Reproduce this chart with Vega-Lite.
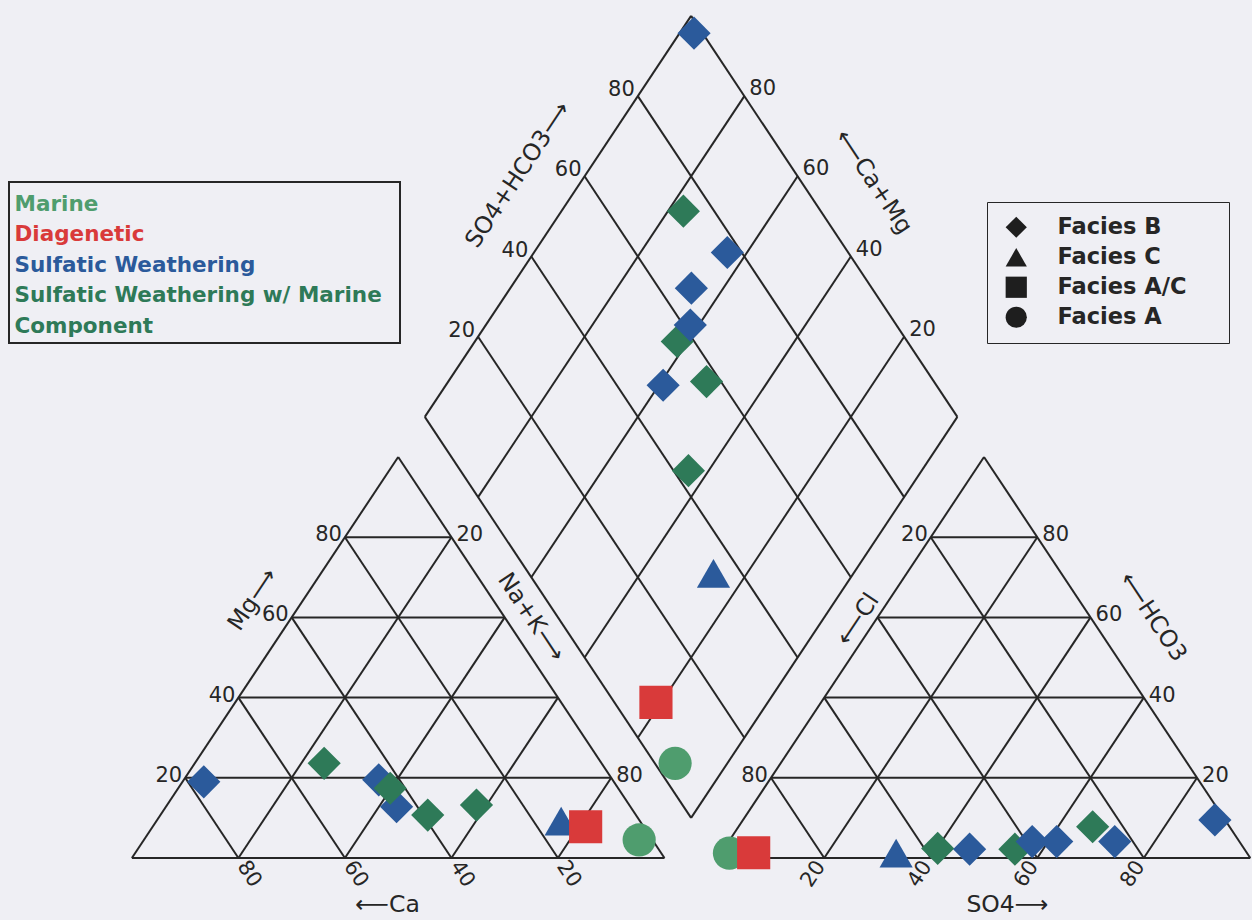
{
  "$schema": "https://vega.github.io/schema/vega-lite/v6.json",
  "width": 1252,
  "height": 920,
  "padding": 0,
  "autosize": {"type": "fit", "contains": "padding"},
  "background": "#efeff4",
  "config": {
    "view": {"stroke": null},
    "text": {"font": "DejaVu Sans", "fontSize": 21, "color": "#262626"}
  },
  "data": {
    "values": [
      {"kind": "grid", "panel": "cat", "a": 0, "b": 0, "a2": 0, "b2": 100},
      {"kind": "grid", "panel": "cat", "a": 20, "b": 0, "a2": 20, "b2": 80},
      {"kind": "grid", "panel": "cat", "a": 40, "b": 0, "a2": 40, "b2": 60},
      {"kind": "grid", "panel": "cat", "a": 60, "b": 0, "a2": 60, "b2": 40},
      {"kind": "grid", "panel": "cat", "a": 80, "b": 0, "a2": 80, "b2": 20},
      {"kind": "grid", "panel": "cat", "a": 0, "b": 0, "a2": 100, "b2": 0},
      {"kind": "grid", "panel": "cat", "a": 0, "b": 20, "a2": 80, "b2": 20},
      {"kind": "grid", "panel": "cat", "a": 0, "b": 40, "a2": 60, "b2": 40},
      {"kind": "grid", "panel": "cat", "a": 0, "b": 60, "a2": 40, "b2": 60},
      {"kind": "grid", "panel": "cat", "a": 0, "b": 80, "a2": 20, "b2": 80},
      {"kind": "grid", "panel": "cat", "a": 0, "b": 100, "a2": 100, "b2": 0},
      {"kind": "grid", "panel": "cat", "a": 0, "b": 80, "a2": 80, "b2": 0},
      {"kind": "grid", "panel": "cat", "a": 0, "b": 60, "a2": 60, "b2": 0},
      {"kind": "grid", "panel": "cat", "a": 0, "b": 40, "a2": 40, "b2": 0},
      {"kind": "grid", "panel": "cat", "a": 0, "b": 20, "a2": 20, "b2": 0},
      {"kind": "grid", "panel": "an", "a": 0, "b": 0, "a2": 0, "b2": 100},
      {"kind": "grid", "panel": "an", "a": 20, "b": 0, "a2": 20, "b2": 80},
      {"kind": "grid", "panel": "an", "a": 40, "b": 0, "a2": 40, "b2": 60},
      {"kind": "grid", "panel": "an", "a": 60, "b": 0, "a2": 60, "b2": 40},
      {"kind": "grid", "panel": "an", "a": 80, "b": 0, "a2": 80, "b2": 20},
      {"kind": "grid", "panel": "an", "a": 0, "b": 0, "a2": 100, "b2": 0},
      {"kind": "grid", "panel": "an", "a": 0, "b": 20, "a2": 80, "b2": 20},
      {"kind": "grid", "panel": "an", "a": 0, "b": 40, "a2": 60, "b2": 40},
      {"kind": "grid", "panel": "an", "a": 0, "b": 60, "a2": 40, "b2": 60},
      {"kind": "grid", "panel": "an", "a": 0, "b": 80, "a2": 20, "b2": 80},
      {"kind": "grid", "panel": "an", "a": 0, "b": 100, "a2": 100, "b2": 0},
      {"kind": "grid", "panel": "an", "a": 0, "b": 80, "a2": 80, "b2": 0},
      {"kind": "grid", "panel": "an", "a": 0, "b": 60, "a2": 60, "b2": 0},
      {"kind": "grid", "panel": "an", "a": 0, "b": 40, "a2": 40, "b2": 0},
      {"kind": "grid", "panel": "an", "a": 0, "b": 20, "a2": 20, "b2": 0},
      {"kind": "grid", "panel": "dia", "a": 0, "b": 0, "a2": 0, "b2": 100},
      {"kind": "grid", "panel": "dia", "a": 20, "b": 0, "a2": 20, "b2": 100},
      {"kind": "grid", "panel": "dia", "a": 40, "b": 0, "a2": 40, "b2": 100},
      {"kind": "grid", "panel": "dia", "a": 60, "b": 0, "a2": 60, "b2": 100},
      {"kind": "grid", "panel": "dia", "a": 80, "b": 0, "a2": 80, "b2": 100},
      {"kind": "grid", "panel": "dia", "a": 100, "b": 0, "a2": 100, "b2": 100},
      {"kind": "grid", "panel": "dia", "a": 0, "b": 0, "a2": 100, "b2": 0},
      {"kind": "grid", "panel": "dia", "a": 0, "b": 20, "a2": 100, "b2": 20},
      {"kind": "grid", "panel": "dia", "a": 0, "b": 40, "a2": 100, "b2": 40},
      {"kind": "grid", "panel": "dia", "a": 0, "b": 60, "a2": 100, "b2": 60},
      {"kind": "grid", "panel": "dia", "a": 0, "b": 80, "a2": 100, "b2": 80},
      {"kind": "grid", "panel": "dia", "a": 0, "b": 100, "a2": 100, "b2": 100},

      {"kind": "pt", "panel": "cat", "a": 4.5, "b": 93.0, "cls": "Marine", "facies": "Facies A"},
      {"kind": "pt", "panel": "an", "a": 1.2, "b": 1.6, "cls": "Marine", "facies": "Facies A"},
      {"kind": "pt", "panel": "dia", "a": 9.8, "b": 3.8, "cls": "Marine", "facies": "Facies A"},

      {"kind": "pt", "panel": "cat", "a": 19.0, "b": 4.0, "cls": "Sulfatic Weathering", "facies": "Facies B"},
      {"kind": "pt", "panel": "cat", "a": 23.6, "b": 24.3, "cls": "Sulfatic Weathering w/ Marine Component", "facies": "Facies B"},
      {"kind": "pt", "panel": "cat", "a": 19.5, "b": 36.6, "cls": "Sulfatic Weathering", "facies": "Facies B"},
      {"kind": "pt", "panel": "cat", "a": 12.8, "b": 43.3, "cls": "Sulfatic Weathering", "facies": "Facies B"},
      {"kind": "pt", "panel": "cat", "a": 17.4, "b": 39.8, "cls": "Sulfatic Weathering w/ Marine Component", "facies": "Facies B"},
      {"kind": "pt", "panel": "cat", "a": 10.7, "b": 50.2, "cls": "Sulfatic Weathering w/ Marine Component", "facies": "Facies B"},
      {"kind": "pt", "panel": "cat", "a": 13.2, "b": 58.1, "cls": "Sulfatic Weathering w/ Marine Component", "facies": "Facies B"},
      {"kind": "pt", "panel": "cat", "a": 9.2, "b": 76.0, "cls": "Sulfatic Weathering", "facies": "Facies C"},
      {"kind": "pt", "panel": "cat", "a": 7.8, "b": 81.3, "cls": "Diagenetic", "facies": "Facies A/C"},

      {"kind": "pt", "panel": "an", "a": 2.4, "b": 40.1, "cls": "Sulfatic Weathering w/ Marine Component", "facies": "Facies B"},
      {"kind": "pt", "panel": "an", "a": 2.2, "b": 54.7, "cls": "Sulfatic Weathering w/ Marine Component", "facies": "Facies B"},
      {"kind": "pt", "panel": "an", "a": 7.8, "b": 66.5, "cls": "Sulfatic Weathering w/ Marine Component", "facies": "Facies B"},
      {"kind": "pt", "panel": "an", "a": 2.2, "b": 46.2, "cls": "Sulfatic Weathering", "facies": "Facies B"},
      {"kind": "pt", "panel": "an", "a": 4.1, "b": 57.0, "cls": "Sulfatic Weathering", "facies": "Facies B"},
      {"kind": "pt", "panel": "an", "a": 4.1, "b": 61.6, "cls": "Sulfatic Weathering", "facies": "Facies B"},
      {"kind": "pt", "panel": "an", "a": 4.1, "b": 72.5, "cls": "Sulfatic Weathering", "facies": "Facies B"},
      {"kind": "pt", "panel": "an", "a": 9.5, "b": 88.6, "cls": "Sulfatic Weathering", "facies": "Facies B"},
      {"kind": "pt", "panel": "an", "a": 1.2, "b": 32.9, "cls": "Sulfatic Weathering", "facies": "Facies C"},
      {"kind": "pt", "panel": "an", "a": 1.3, "b": 6.1, "cls": "Diagenetic", "facies": "Facies A/C"},

      {"kind": "pt", "panel": "dia", "a": 97.3, "b": 98.4, "cls": "Sulfatic Weathering", "facies": "Facies B"},
      {"kind": "pt", "panel": "dia", "a": 77.1, "b": 74.2, "cls": "Sulfatic Weathering w/ Marine Component", "facies": "Facies B"},
      {"kind": "pt", "panel": "dia", "a": 63.7, "b": 77.3, "cls": "Sulfatic Weathering", "facies": "Facies B"},
      {"kind": "pt", "panel": "dia", "a": 66.0, "b": 66.1, "cls": "Sulfatic Weathering", "facies": "Facies B"},
      {"kind": "pt", "panel": "dia", "a": 62.0, "b": 56.8, "cls": "Sulfatic Weathering w/ Marine Component", "facies": "Facies B"},
      {"kind": "pt", "panel": "dia", "a": 61.6, "b": 61.3, "cls": "Sulfatic Weathering", "facies": "Facies B"},
      {"kind": "pt", "panel": "dia", "a": 59.2, "b": 48.7, "cls": "Sulfatic Weathering", "facies": "Facies B"},
      {"kind": "pt", "panel": "dia", "a": 51.5, "b": 57.3, "cls": "Sulfatic Weathering w/ Marine Component", "facies": "Facies B"},
      {"kind": "pt", "panel": "dia", "a": 43.8, "b": 42.8, "cls": "Sulfatic Weathering w/ Marine Component", "facies": "Facies B"},
      {"kind": "pt", "panel": "dia", "a": 26.3, "b": 34.7, "cls": "Sulfatic Weathering", "facies": "Facies C"},
      {"kind": "pt", "panel": "dia", "a": 21.0, "b": 7.8, "cls": "Diagenetic", "facies": "Facies A/C"},

      {"kind": "lab", "grp": "triL", "panel": "cat", "a": 80, "b": 0, "text": "80"},
      {"kind": "lab", "grp": "triL", "panel": "cat", "a": 60, "b": 0, "text": "60"},
      {"kind": "lab", "grp": "triL", "panel": "cat", "a": 40, "b": 0, "text": "40"},
      {"kind": "lab", "grp": "triL", "panel": "cat", "a": 20, "b": 0, "text": "20"},
      {"kind": "lab", "grp": "triL", "panel": "an", "a": 80, "b": 0, "text": "20"},
      {"kind": "lab", "grp": "triL", "panel": "an", "a": 20, "b": 0, "text": "80"},
      {"kind": "lab", "grp": "triR", "panel": "cat", "a": 80, "b": 20, "text": "20"},
      {"kind": "lab", "grp": "triR", "panel": "cat", "a": 20, "b": 80, "text": "80"},
      {"kind": "lab", "grp": "triR", "panel": "an", "a": 80, "b": 20, "text": "80"},
      {"kind": "lab", "grp": "triR", "panel": "an", "a": 60, "b": 40, "text": "60"},
      {"kind": "lab", "grp": "triR", "panel": "an", "a": 40, "b": 60, "text": "40"},
      {"kind": "lab", "grp": "triR", "panel": "an", "a": 20, "b": 80, "text": "20"},
      {"kind": "lab", "grp": "diaL", "panel": "dia", "a": 100, "b": 80, "text": "80"},
      {"kind": "lab", "grp": "diaL", "panel": "dia", "a": 100, "b": 60, "text": "60"},
      {"kind": "lab", "grp": "diaL", "panel": "dia", "a": 100, "b": 40, "text": "40"},
      {"kind": "lab", "grp": "diaL", "panel": "dia", "a": 100, "b": 20, "text": "20"},
      {"kind": "lab", "grp": "diaR", "panel": "dia", "a": 80, "b": 100, "text": "80"},
      {"kind": "lab", "grp": "diaR", "panel": "dia", "a": 60, "b": 100, "text": "60"},
      {"kind": "lab", "grp": "diaR", "panel": "dia", "a": 40, "b": 100, "text": "40"},
      {"kind": "lab", "grp": "diaR", "panel": "dia", "a": 20, "b": 100, "text": "20"},
      {"kind": "lab", "grp": "baseC", "panel": "cat", "a": 0, "b": 20, "text": "80"},
      {"kind": "lab", "grp": "baseC", "panel": "cat", "a": 0, "b": 40, "text": "60"},
      {"kind": "lab", "grp": "baseC", "panel": "cat", "a": 0, "b": 60, "text": "40"},
      {"kind": "lab", "grp": "baseC", "panel": "cat", "a": 0, "b": 80, "text": "20"},
      {"kind": "lab", "grp": "baseA", "panel": "an", "a": 0, "b": 20, "text": "20"},
      {"kind": "lab", "grp": "baseA", "panel": "an", "a": 0, "b": 40, "text": "40"},
      {"kind": "lab", "grp": "baseA", "panel": "an", "a": 0, "b": 60, "text": "60"},
      {"kind": "lab", "grp": "baseA", "panel": "an", "a": 0, "b": 80, "text": "80"},

      {"kind": "title", "grp": "Mg", "panel": "cat", "a": 58.6, "b": 0, "text": "Mg⟶"},
      {"kind": "title", "grp": "NaK", "panel": "cat", "a": 57, "b": 43, "text": "Na+K⟶"},
      {"kind": "title", "grp": "SH", "panel": "dia", "a": 100, "b": 52.6, "text": "SO4+HCO3⟶"},
      {"kind": "title", "grp": "CM", "panel": "dia", "a": 50.3, "b": 100, "text": "⟵Ca+Mg"},
      {"kind": "title", "grp": "Cl", "panel": "an", "a": 57.4, "b": 0, "text": "⟵Cl"},
      {"kind": "title", "grp": "HC", "panel": "an", "a": 52.9, "b": 47.1, "text": "⟵HCO3"},
      {"kind": "title", "grp": "base", "panel": "cat", "a": 0, "b": 48, "text": "⟵Ca"},
      {"kind": "title", "grp": "base", "panel": "an", "a": 0, "b": 54.4, "text": "SO4⟶"}
    ]
  },
  "transform": [
    {"calculate": "datum.panel == 'cat' ? datum.b/100 + datum.a/200 : datum.panel == 'an' ? 1.1 + datum.b/100 + datum.a/200 : 1.05 + (datum.b - datum.a)/200", "as": "u"},
    {"calculate": "datum.panel == 'dia' ? 0.1 + (datum.a + datum.b)/100 : datum.a/100", "as": "v"},
    {"calculate": "datum.panel == 'cat' ? datum.b2/100 + datum.a2/200 : datum.panel == 'an' ? 1.1 + datum.b2/100 + datum.a2/200 : 1.05 + (datum.b2 - datum.a2)/200", "as": "u2"},
    {"calculate": "datum.panel == 'dia' ? 0.1 + (datum.a2 + datum.b2)/100 : datum.a2/100", "as": "v2"}
  ],
  "encoding": {
    "x": {"field": "u", "type": "quantitative", "scale": {"domain": [-0.24765, 2.10131], "nice": false, "zero": false}, "axis": null},
    "y": {"field": "v", "type": "quantitative", "scale": {"domain": [-0.15461, 2.13965], "nice": false, "zero": false}, "axis": null}
  },
  "layer": [
    {
      "transform": [{"filter": "datum.kind == 'grid'"}],
      "mark": {"type": "rule", "stroke": "#262626", "strokeWidth": 2},
      "encoding": {
        "x2": {"field": "u2"},
        "y2": {"field": "v2"}
      }
    },
    {
      "transform": [{"filter": "datum.kind == 'pt'"}, {"calculate": "datum.facies", "as": "sizeKey"}],
      "mark": {"type": "point", "filled": true, "opacity": 1, "strokeWidth": 0},
      "encoding": {
        "color": {
          "field": "cls", "type": "nominal",
          "scale": {
            "domain": ["Marine", "Diagenetic", "Sulfatic Weathering", "Sulfatic Weathering w/ Marine Component"],
            "range": ["#4f9d6e", "#d93a3a", "#2b5a9b", "#2e7a58"]
          },
          "legend": {
            "title": "M", "titleOrient": "right", "titleFontSize": 15, "titleColor": "rgba(0,0,0,0)", "titlePadding": 0,
            "orient": "none", "legendX": 9, "legendY": 182,
            "strokeColor": "#262626", "padding": 5,
            "symbolSize": 0, "symbolOpacity": 0, "symbolStrokeWidth": 0,
            "labelOffset": -21, "labelFont": "DejaVu Sans", "labelFontWeight": "bold",
            "labelFontSize": 21.5, "labelLimit": 600, "labelBaseline": "top", "rowPadding": 1.5,
            "labelExpr": "datum.label == 'Sulfatic Weathering w/ Marine Component' ? ['Sulfatic Weathering w/ Marine', 'Component'] : datum.label",
            "encode": {
              "labels": {"update": {"fill": {"scale": "color", "field": "value"}, "lineHeight": {"value": 30.7}, "dy": {"value": -4}}},
              "legend": {"update": {"strokeWidth": {"value": 2}}}
            }
          }
        },
        "shape": {
          "field": "facies", "type": "nominal",
          "scale": {
            "domain": ["Facies B", "Facies C", "Facies A/C", "Facies A"],
            "range": ["diamond", "triangle-up", "square", "circle"]
          },
          "legend": {
            "title": "MM", "titleOrient": "right", "titleFontSize": 17, "titleColor": "rgba(0,0,0,0)", "titlePadding": 0,
            "orient": "none", "legendX": 987, "legendY": 202,
            "strokeColor": "#262626", "padding": 14,
            "symbolSize": 450, "symbolFillColor": "#1e1e1e", "symbolStrokeColor": "#1e1e1e", "symbolStrokeWidth": 0,
            "symbolOffset": 4, "labelOffset": 30,
            "labelFont": "DejaVu Sans", "labelFontWeight": "bold", "labelFontSize": 22.5, "labelColor": "#262626",
            "rowPadding": 7,
            "encode": {
              "symbols": {"update": {"fill": {"value": "#1e1e1e"}, "opacity": {"value": 1}}},
              "legend": {"update": {"strokeWidth": {"value": 2}}}
            }
          }
        },
        "size": {
          "field": "sizeKey", "type": "nominal",
          "scale": {"domain": ["Facies A", "Facies A/C", "Facies B", "Facies C"], "range": [1100, 1100, 1000, 1340]},
          "legend": null
        }
      }
    },
    {
      "transform": [{"filter": "datum.grp == 'triL'"}],
      "mark": {"type": "text", "align": "right", "baseline": "alphabetic", "dx": -3, "dy": 4},
      "encoding": {"text": {"field": "text"}}
    },
    {
      "transform": [{"filter": "datum.grp == 'triR'"}],
      "mark": {"type": "text", "align": "left", "baseline": "alphabetic", "dx": 5, "dy": 4},
      "encoding": {"text": {"field": "text"}}
    },
    {
      "transform": [{"filter": "datum.grp == 'diaL'"}],
      "mark": {"type": "text", "align": "right", "baseline": "alphabetic", "dx": -3, "dy": 0},
      "encoding": {"text": {"field": "text"}}
    },
    {
      "transform": [{"filter": "datum.grp == 'diaR'"}],
      "mark": {"type": "text", "align": "left", "baseline": "alphabetic", "dx": 5, "dy": -1},
      "encoding": {"text": {"field": "text"}}
    },
    {
      "transform": [{"filter": "datum.grp == 'baseC'"}],
      "mark": {"type": "text", "align": "left", "baseline": "middle", "angle": 56.4, "dx": 6},
      "encoding": {"text": {"field": "text"}}
    },
    {
      "transform": [{"filter": "datum.grp == 'baseA'"}],
      "mark": {"type": "text", "align": "right", "baseline": "middle", "angle": 303.6, "dx": -6},
      "encoding": {"text": {"field": "text"}}
    },
    {
      "transform": [{"filter": "datum.grp == 'Mg'"}],
      "mark": {"type": "text", "align": "center", "baseline": "middle", "angle": 303.6, "dy": -42, "fontSize": 23.5},
      "encoding": {"text": {"field": "text"}}
    },
    {
      "transform": [{"filter": "datum.grp == 'SH'"}],
      "mark": {"type": "text", "align": "center", "baseline": "middle", "angle": 303.6, "dy": -56, "fontSize": 23.5},
      "encoding": {"text": {"field": "text"}}
    },
    {
      "transform": [{"filter": "datum.grp == 'Cl'"}],
      "mark": {"type": "text", "align": "center", "baseline": "middle", "angle": 303.6, "dy": -15, "fontSize": 23.5},
      "encoding": {"text": {"field": "text"}}
    },
    {
      "transform": [{"filter": "datum.grp == 'NaK'"}],
      "mark": {"type": "text", "align": "center", "baseline": "middle", "angle": 56.4, "dy": -22, "fontSize": 23.5},
      "encoding": {"text": {"field": "text"}}
    },
    {
      "transform": [{"filter": "datum.grp == 'CM'"}],
      "mark": {"type": "text", "align": "center", "baseline": "middle", "angle": 56.4, "dy": -60, "fontSize": 23.5},
      "encoding": {"text": {"field": "text"}}
    },
    {
      "transform": [{"filter": "datum.grp == 'HC'"}],
      "mark": {"type": "text", "align": "center", "baseline": "middle", "angle": 56.4, "dy": -52, "fontSize": 23.5},
      "encoding": {"text": {"field": "text"}}
    },
    {
      "transform": [{"filter": "datum.grp == 'base'"}],
      "mark": {"type": "text", "align": "center", "baseline": "middle", "dy": 47, "fontSize": 23.5},
      "encoding": {"text": {"field": "text"}}
    }
  ]
}
